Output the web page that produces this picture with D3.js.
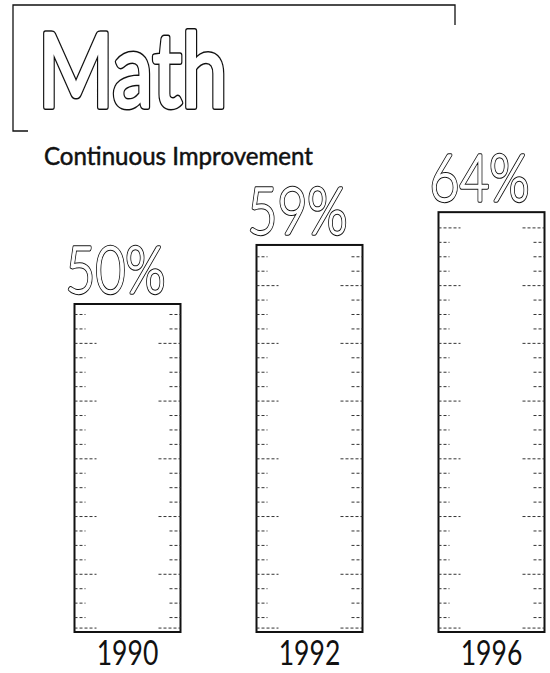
<!DOCTYPE html>
<html>
<head>
<meta charset="utf-8">
<script src="https://cdn.jsdelivr.net/npm/d3@7"></script>
<style>
  body { margin: 0; background: #fff; }
  svg { display: block; }
  text { font-family: Lato, "Open Sans", sans-serif; }
</style>
</head>
<body>
<script>
// values
var years = ["1990", "1992", "1996"];
var scores = [50, 59, 64];
var labels = ["50%", "59%", "64%"];
var title = "Math";
var subtitle = "Continuous Improvement";
var tickStep = 2.2; // inner rule marks, in percent

var W = 550, H = 673;
var svg = d3.select("body").append("svg")
    .attr("width", W)
    .attr("height", H);

var x = d3.scaleBand().domain(years).range([74.5, 544.5]).paddingInner(0.4176);
var y = d3.scaleLinear().domain([0, 50]).range([632, 304]);

// title frame (open box)
svg.append("path")
    .attr("d", "M28 131 H13 V5 H455 V25")
    .attr("fill", "none")
    .attr("stroke", "#111")
    .attr("stroke-width", 1.3);

// outlined lettering: a black stroke underneath, white stroke + fill on top
function outlined(parent, make, thick, thin) {
  [[thick, "#111"], [thin, "#fff"]].forEach(function(s) {
    make(parent.append("g"))
      .attr("fill", "#fff")
      .attr("stroke", s[1])
      .attr("stroke-width", s[0])
      .attr("stroke-linejoin", "round");
  });
}

outlined(svg, function(g) {
  return g.append("text")
      .attr("transform", "translate(38,107) scale(0.8,1)")
      .attr("font-size", 102)
      .attr("font-weight", 400)
      .text(title);
}, 6, 3);

svg.append("text")
    .attr("x", 44).attr("y", 165)
    .attr("font-size", 25)
    .attr("textLength", 269)
    .attr("lengthAdjust", "spacingAndGlyphs")
    .attr("fill", "#111").attr("stroke", "#111").attr("stroke-width", 0.5)
    .text(subtitle);

// bars
var bars = svg.selectAll("g.bar")
  .data(years)
  .join("g")
    .attr("class", "bar");

bars.append("rect")
    .attr("x", function(d) { return x(d); })
    .attr("y", function(d, i) { return y(scores[i]); })
    .attr("width", x.bandwidth())
    .attr("height", function(d, i) { return y(0) - y(scores[i]); })
    .attr("fill", "#fff")
    .attr("stroke", "#111")
    .attr("stroke-width", 2);

// rule marks inside each bar
bars.each(function(d, i) {
  var marks = d3.range(tickStep, scores[i] - 1, tickStep);
  marks.unshift(0.6);
  var x0 = x(d), x1 = x(d) + x.bandwidth();
  var sel = d3.select(this).selectAll("g.mark")
    .data(marks)
    .join("g")
      .attr("class", "mark");
  sel.append("line")
      .attr("x1", x0).attr("x2", function(m, k) { return x0 + (k % 4 == 0 ? 22 : 11); })
      .attr("y1", function(m) { return y(m); }).attr("y2", function(m) { return y(m); });
  sel.append("line")
      .attr("x1", function(m, k) { return x1 - (k % 4 == 0 ? 22 : 11); }).attr("x2", x1)
      .attr("y1", function(m) { return y(m); }).attr("y2", function(m) { return y(m); });
  sel.selectAll("line")
      .attr("stroke", "#333")
      .attr("stroke-width", 1)
      .attr("stroke-dasharray", "3,2");
});

// value labels, outlined
outlined(svg, function(g) {
  return g.selectAll("text")
    .data(years)
    .join("text")
      .attr("transform", function(d, i) {
        return "translate(" + (x(d) + x.bandwidth() / 2 - 12) + "," + (y(scores[i]) - 11) + ") scale(0.78,1)";
      })
      .attr("text-anchor", "middle")
      .attr("font-size", 66)
      .attr("font-weight", 300)
      .text(function(d, i) { return labels[i]; });
}, 3.4, 1.3);

// year labels
svg.append("g").selectAll("text")
  .data(years)
  .join("text")
    .attr("transform", function(d) {
      return "translate(" + (x(d) + x.bandwidth() / 2) + ",665) scale(0.78,1)";
    })
    .attr("text-anchor", "middle")
    .attr("font-size", 34)
    .attr("fill", "#111")
    .text(function(d) { return d; });
</script>
</body>
</html>
